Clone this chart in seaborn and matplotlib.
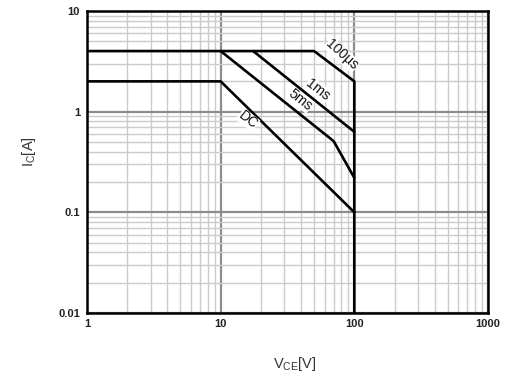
import numpy as np
import pandas as pd
import matplotlib
matplotlib.use("Agg")
import matplotlib.pyplot as plt
import seaborn as sns
from matplotlib.ticker import LogLocator, FixedLocator, FixedFormatter, NullFormatter

# ---- data ----
curve_names = ["100\u00b5s", "1ms", "5ms", "DC"]
vce_100us = [1, 50, 100, 100]
ic_100us = [4, 4, 2, 0.01]
vce_1ms = [17.5, 100]
ic_1ms = [4, 0.63]
vce_5ms = [10, 70, 100]
ic_5ms = [4, 0.51, 0.22]
vce_dc = [1, 10, 100]
ic_dc = [2, 2, 0.1]

x_ticks = [1, 10, 100, 1000]
x_tick_labels = ["1", "10", "100", "1000"]
y_ticks = [0.01, 0.1, 1, 10]
y_tick_labels = ["0.01", "0.1", "1", "10"]

label_x = [80.8, 53.4, 39.2, 16.0]
label_y = [3.66, 1.64, 1.31, 0.827]
label_rot = [-42, -38, -38, -38]

frames = []
for name, xs, ys in zip(curve_names,
                        [vce_100us, vce_1ms, vce_5ms, vce_dc],
                        [ic_100us, ic_1ms, ic_5ms, ic_dc]):
    frames.append(pd.DataFrame({"Vce": xs, "Ic": ys, "curve": name}))
df = pd.concat(frames, ignore_index=True)

sns.set_style("white")
plt.rcParams["font.family"] = ["Liberation Sans", "DejaVu Sans"]
plt.rcParams["mathtext.default"] = "regular"

fig = plt.figure(figsize=(5.07, 3.76), dpi=100)
ax = fig.add_axes([87 / 507, 1 - 313 / 376, (488 - 87) / 507, (313 - 11) / 376])

ax.set_xscale("log")
ax.set_yscale("log")
ax.set_xlim(1, 1000)
ax.set_ylim(0.01, 10)

# grid
ax.xaxis.set_minor_locator(LogLocator(base=10, subs=np.arange(2, 10)))
ax.yaxis.set_minor_locator(LogLocator(base=10, subs=np.arange(2, 10)))
ax.grid(True, which="minor", color="#cbcbcb", linewidth=1.0, zorder=0)
ax.grid(True, which="major", color="#8c8c8c", linewidth=1.6, zorder=0)
ax.set_axisbelow(True)

sns.lineplot(data=df, x="Vce", y="Ic", hue="curve", units="curve",
             estimator=None, sort=False,
             palette={n: "black" for n in curve_names},
             linewidth=1.9, legend=False, ax=ax, zorder=3)

for name, lx, ly, rot in zip(curve_names, label_x, label_y, label_rot):
    ax.text(lx, ly, name, rotation=rot, ha="center", va="center",
            fontsize=10, color="#111111", zorder=4,
            rotation_mode="anchor",
            bbox=dict(facecolor="white", edgecolor="none", pad=0.2))

ax.xaxis.set_major_locator(FixedLocator(x_ticks))
ax.xaxis.set_major_formatter(FixedFormatter(x_tick_labels))
ax.yaxis.set_major_locator(FixedLocator(y_ticks))
ax.yaxis.set_major_formatter(FixedFormatter(y_tick_labels))
ax.xaxis.set_minor_formatter(NullFormatter())
ax.yaxis.set_minor_formatter(NullFormatter())
ax.tick_params(which="both", length=0)
ax.tick_params(axis="x", pad=4)
ax.tick_params(axis="y", pad=5)
for lab in ax.get_xticklabels() + ax.get_yticklabels():
    lab.set_fontweight("bold")
    lab.set_fontsize(8)
    lab.set_color("#222222")

for sp in ax.spines.values():
    sp.set_visible(True)
    sp.set_color("black")
    sp.set_linewidth(1.8)
    sp.set_zorder(5)

ax.set_xlabel("V$_{CE}$[V]", fontsize=10.5, color="#333333")
ax.set_ylabel("I$_C$[A]", fontsize=10.5, color="#333333")
ax.xaxis.set_label_coords(0.519, -0.140)
ax.yaxis.set_label_coords(-0.122, 0.533)

fig.savefig("out.png", dpi=100, facecolor="white")
